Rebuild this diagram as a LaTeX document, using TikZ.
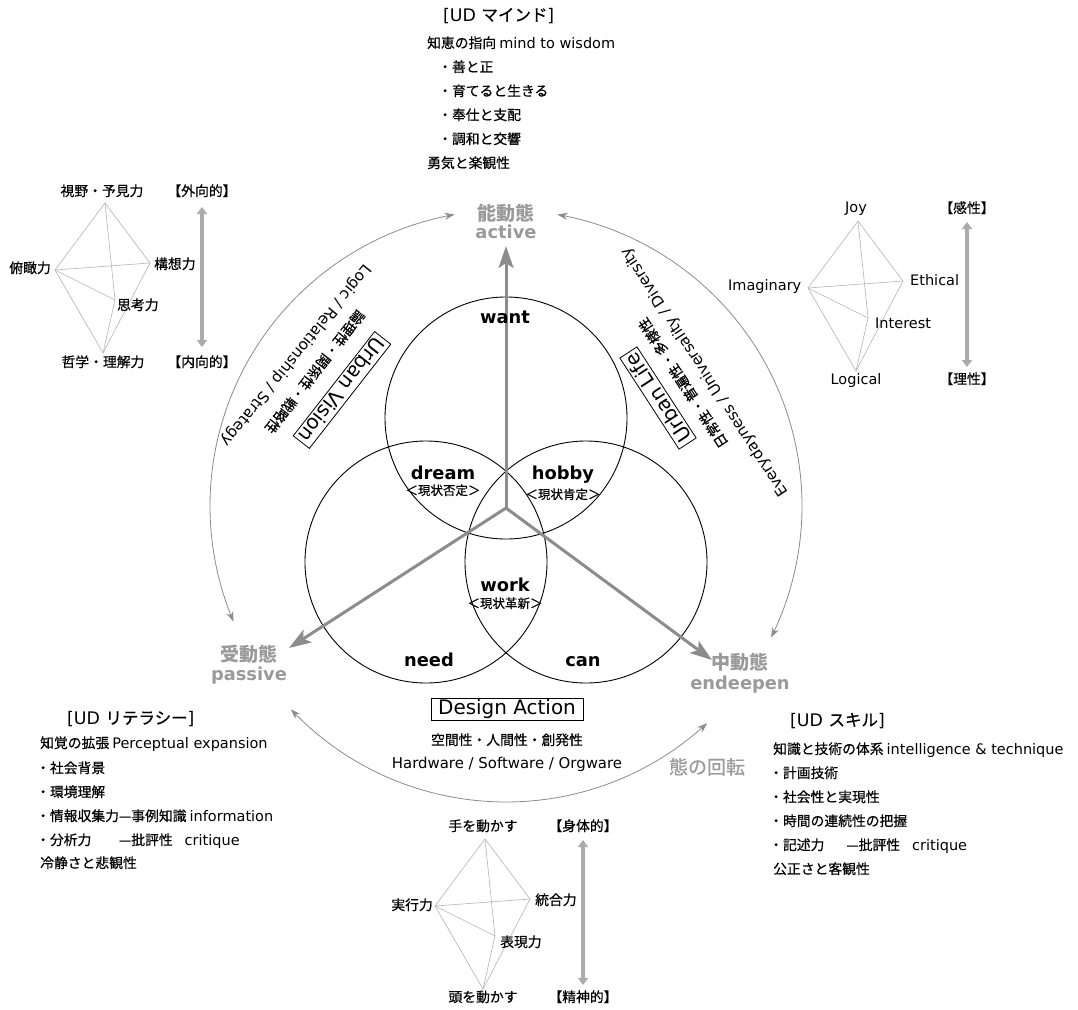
\documentclass[tikz,border=0pt]{standalone}
\usepackage{fontspec}
\setmainfont{Noto Sans CJK JP}[UprightFeatures={FakeBold=0.5}]
\newfontfamily\latf[Scale=1.05]{DejaVu Sans}
\usetikzlibrary{arrows.meta,bending,calc}
\definecolor{arr}{HTML}{8C8C8C}
\definecolor{lab}{HTML}{9A9A9A}
\definecolor{dia}{HTML}{B4B4B4}
\definecolor{dar}{HTML}{ABABAB}
\tikzset{
  body/.style={inner sep=0pt, anchor=base west, font=\fontsize{13.8}{16}\selectfont},
  ttl/.style={inner sep=0pt, anchor=base west, font=\fontsize{16.5}{18}\selectfont},
  vcirc/.style={circle, draw=black, line width=0.9pt, minimum size=242, inner sep=0pt},
  vlab/.style={inner sep=0pt, anchor=base, font=\fontsize{17}{20}\selectfont\latf\bfseries},
  vsub/.style={inner sep=0pt, anchor=base, font=\fontsize{12.5}{14}\selectfont},
  stj/.style={inner sep=0pt, anchor=base, text=lab, font=\fontsize{19}{20}\selectfont\bfseries},
  stl/.style={inner sep=0pt, anchor=base, text=lab, font=\fontsize{17}{20}\selectfont\latf\bfseries},
  bigarrow/.style={draw=arr, line width=3pt, -{Stealth[length=22pt,width=15pt,inset=5pt]}},
  ring/.style={draw=arr, line width=0.8pt, {Stealth[length=10pt,width=7pt]}-{Stealth[length=10pt,width=7pt]}},
  rotl/.style={inner sep=0pt, anchor=center, font=\fontsize{14.5}{17}\selectfont\latf},
  rotj/.style={inner sep=0pt, anchor=center, font=\fontsize{13.8}{16}\selectfont},
  boxed/.style={draw=black, line width=0.8pt, inner xsep=3pt, inner ysep=2.5pt, font=\fontsize{19}{21}\selectfont\latf},
  dedge/.style={draw=dia, line width=0.6pt},
  dlab/.style={inner sep=0pt, font=\fontsize{13.8}{16}\selectfont},
  dlat/.style={inner sep=0pt, font=\fontsize{13.8}{16}\selectfont\latf},
  daxis/.style={draw=dar, line width=3.5pt, {Triangle[length=7pt,width=10pt]}-{Triangle[length=7pt,width=10pt]}},
}
\newcommand\mydiamond[3]{%
  \coordinate (#1T) at (#2,#3);
  \coordinate (#1L) at ({#2-50},{#3+67});
  \coordinate (#1R) at ({#2+45},{#3+60});
  \coordinate (#1I) at ({#2+10},{#3+97});
  \coordinate (#1B) at ({#2-2},{#3+150});
  \draw[dedge] (#1T) -- (#1L) -- (#1B) -- (#1R) -- cycle;
  \draw[dedge] (#1T) -- (#1I) -- (#1B);
  \draw[dedge] (#1L) -- (#1R);
  \draw[dedge] (#1L) -- (#1I);
}
\begin{document}
\begin{tikzpicture}[x=1pt,y=-1pt]
\useasboundingbox (0,0) rectangle (1078,1009);
\fill[white] (0,0) rectangle (1078,1009);

% ---------- top block: UD mind
\node[ttl] (m0) at (443,21) {{\latf [UD }マインド{\latf ]}};
\node[body] (m1) at (427,48) {知恵の指向 {\latf mind to wisdom}};
\node[body] (m2) at (438,72) {・善と正};
\node[body] (m3) at (438,96) {・育てると生きる};
\node[body] (m4) at (438,120) {・奉仕と支配};
\node[body] (m5) at (438,144) {・調和と交響};
\node[body] (m6) at (427,168) {勇気と楽観性};

% ---------- bottom-left block: UD literacy
\node[ttl] (p0) at (67,724) {{\latf [UD }リテラシー{\latf ]}};
\node[body] (p1) at (40,748) {知覚の拡張 {\latf Perceptual expansion}};
\node[body] (p2) at (36,773) {・社会背景};
\node[body] (p3) at (36,797) {・環境理解};
\node[body] (p4) at (36,821) {・情報収集力—事例知識 {\latf information}};
\node[body] (p5) at (36,845) {\rlap{・分析力}\phantom{・情報収集力}—批評性\hspace{12pt}{\latf critique}};
\node[body] (p6) at (40,868) {冷静さと悲観性};

% ---------- bottom-right block: UD skill
\node[ttl] (s0) at (790,726) {{\latf [UD }スキル{\latf ]}};
\node[body] (s1) at (773,754) {知識と技術の体系 {\latf intelligence \& technique}};
\node[body] (s2) at (769,778) {・計画技術};
\node[body] (s3) at (769,802) {・社会性と実現性};
\node[body] (s4) at (769,826) {・時間の連続性の把握};
\node[body] (s5) at (769,850) {・記述力\hspace{22pt}—批評性\hspace{12pt}{\latf critique}};
\node[body] (s6) at (773,874) {公正さと客観性};

% ---------- diamonds
\mydiamond{a}{105}{203}
\node[dlab, anchor=base] (a1) at (102,196) {視野・予見力};
\node[dlab, anchor=base east] (a2) at (51,273) {俯瞰力};
\node[dlab, anchor=base west] (a3) at (154,269) {構想力};
\node[dlab, anchor=base west] (a4) at (117,310) {思考力};
\node[dlab, anchor=base] (a5) at (103,367) {哲学・理解力};
\node[dlab, anchor=base] (a6) at (202,196) {【外向的】};
\node[dlab, anchor=base] (a7) at (202,367) {【内向的】};
\coordinate (ax1) at (202,207);
\coordinate (ax2) at (202,347);
\draw[daxis] (ax1) -- (ax2);

\mydiamond{b}{858}{221}
\node[dlat, anchor=base] (b1) at (856,212) {Joy};
\node[dlat, anchor=base west] (b2) at (728,290) {Imaginary};
\node[dlat, anchor=base west] (b3) at (910,285) {Ethical};
\node[dlat, anchor=base west] (b4) at (875,328) {Interest};
\node[dlat, anchor=base] (b5) at (856,384) {Logical};
\node[dlab, anchor=base] (b6) at (967,213) {【感性】};
\node[dlab, anchor=base] (b7) at (967,384) {【理性】};
\coordinate (bx1) at (967,222);
\coordinate (bx2) at (967,367);
\draw[daxis] (bx1) -- (bx2);

\mydiamond{c}{485}{839}
\node[dlab, anchor=base] (c1) at (483,831) {手を動かす};
\node[dlab, anchor=base east] (c2) at (433,910) {実行力};
\node[dlab, anchor=base west] (c3) at (535,905) {統合力};
\node[dlab, anchor=base west] (c4) at (500,947) {表現力};
\node[dlab, anchor=base] (c5) at (483,1002) {頭を動かす};
\node[dlab, anchor=base] (c6) at (583,831) {【身体的】};
\node[dlab, anchor=base] (c7) at (583,1002) {【精神的】};
\coordinate (cx1) at (583,840);
\coordinate (cx2) at (583,985);
\draw[daxis] (cx1) -- (cx2);

% ---------- outer rotation arcs
\coordinate (C) at (506,506);
\coordinate (r1) at ($(C)+(-100:296)$);
\coordinate (r2) at ($(C)+(-80:296)$);
\coordinate (r3) at ($(C)+(-223.4:296)$);
\draw[ring] (r1) arc[start angle=-100, end angle=-203, radius=296];
\draw[ring] (r2) arc[start angle=-80, end angle=26.4, radius=296];
\draw[ring] (r3) arc[start angle=-223.4, end angle=-312.8, radius=296];

% ---------- Venn circles
\node[vcirc] (cw) at (506,418) {};
\node[vcirc] (cn) at (426,562) {};
\node[vcirc] (cc) at (586,562) {};

% ---------- big arrows
\coordinate (O) at (506,508);
\coordinate (tipU) at (506,246);
\coordinate (tipL) at (289,648);
\coordinate (tipR) at (712,660);
\draw[bigarrow] (O) -- (tipU);
\draw[bigarrow] (O) -- (tipL);
\draw[bigarrow] (O) -- (tipR);

% ---------- state labels
\node[stj] (act1) at (506,220) {能動態};
\node[stl] (act2) at (506,238) {active};
\node[stj] (pas1) at (249,661) {受動態};
\node[stl] (pas2) at (249,680) {passive};
\node[stj] (mid1) at (740,669) {中動態};
\node[stl] (mid2) at (740,689) {endeepen};
\node[inner sep=0pt, anchor=base, text=lab, font=\fontsize{19}{20}\selectfont] (rot) at (707,774) {態の回転};

% ---------- Venn labels
\node[vlab] (want) at (505,323) {want};
\node[vlab] (dream) at (443,479) {dream};
\node[vsub] (dream2) at (443,495) {＜現状否定＞};
\node[vlab] (hobby) at (563,479) {hobby};
\node[vsub] (hobby2) at (563,499) {＜現状肯定＞};
\node[vlab] (work) at (505,591) {work};
\node[vsub] (work2) at (505,608) {＜現状革新＞};
\node[vlab] (need) at (429,666) {need};
\node[vlab] (can) at (583,666) {can};

% ---------- rotated side texts
\node[rotl, rotate=-129] (l1) at (296,355) {Logic / Relationship / Strategy};
\node[rotj, rotate=-128] (l2) at (315,372) {論理性・関係性・戦略性};
\node[boxed, rotate=-128] (l3) at (342,390) {Urban Vision};
\node[rotl, rotate=123] (q1) at (705,372) {Everydayness / Universality / Diversity};
\node[rotj, rotate=123] (q2) at (683,383) {日常性・普遍性・多様性};
\node[boxed, rotate=123] (q3) at (658,398) {Urban Life};

% ---------- design action
\node[draw=black, line width=0.8pt, minimum width=152, minimum height=22, inner sep=0pt, font=\fontsize{19}{21}\selectfont\latf] (da) at (507,709) {Design Action};
\node[body, anchor=base] (da2) at (507,745) {空間性・人間性・創発性};
\node[body, anchor=base, font=\fontsize{14.2}{16}\selectfont\latf] (da3) at (507,768) {Hardware / Software / Orgware};
\end{tikzpicture}
\end{document}
